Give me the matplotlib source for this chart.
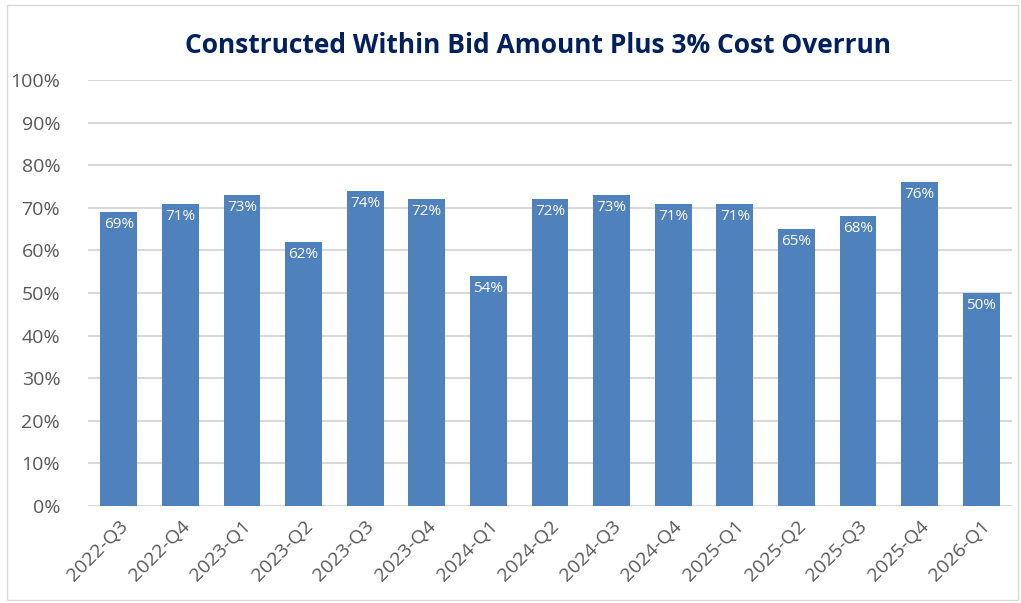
import numpy as np
import matplotlib.pyplot as plt
from matplotlib.patches import Rectangle

quarters = ["2022-Q3", "2022-Q4", "2023-Q1", "2023-Q2", "2023-Q3", "2023-Q4",
            "2024-Q1", "2024-Q2", "2024-Q3", "2024-Q4", "2025-Q1", "2025-Q2",
            "2025-Q3", "2025-Q4", "2026-Q1"]
pct_within = [69, 71, 73, 62, 74, 72, 54, 72, 73, 71, 71, 65, 68, 76, 50]
y_ticks = [0, 10, 20, 30, 40, 50, 60, 70, 80, 90, 100]

plt.rcParams['font.family'] = ['Open Sans', 'DejaVu Sans']

fig = plt.figure(figsize=(10.21, 6.03), dpi=100)
ax = fig.add_axes([0.0862, 0.1609, 0.905, 0.7064])

# light frame round the whole chart
fig.patches.append(Rectangle((0.007, 0.005), 0.99, 0.986, transform=fig.transFigure,
                             fill=False, edgecolor='#d9d9d9', linewidth=1))

x = np.arange(len(quarters))
bars = ax.bar(x, pct_within, width=0.6, color='#4f81bd', zorder=3)

for b, v in zip(bars, pct_within):
    ax.text(b.get_x() + b.get_width() / 2, v - 1.2, f"{v}%", ha='center', va='top',
            color='white', fontsize=11, zorder=4)

ax.set_ylim(0, 100)
ax.set_xlim(-0.5, len(quarters) - 0.5)
ax.set_yticks(y_ticks)
ax.set_yticklabels([f"{t}%" for t in y_ticks], fontsize=14, color='#595959')
ax.set_xticks(x)
ax.set_xticklabels(quarters, rotation=45, ha='right', rotation_mode='anchor',
                   fontsize=14, color='#595959')
ax.tick_params(axis='y', length=0, pad=20)
ax.tick_params(axis='x', length=0, pad=8)
ax.grid(axis='y', color='#d9d9d9', linewidth=1.5, zorder=0)
for s in ax.spines.values():
    s.set_visible(False)

fig.text(0.527, 0.925, "Constructed Within Bid Amount Plus 3% Cost Overrun",
         ha='center', va='center', fontsize=19, fontweight='bold', color='#002060')

fig.savefig("out.png", dpi=100)
